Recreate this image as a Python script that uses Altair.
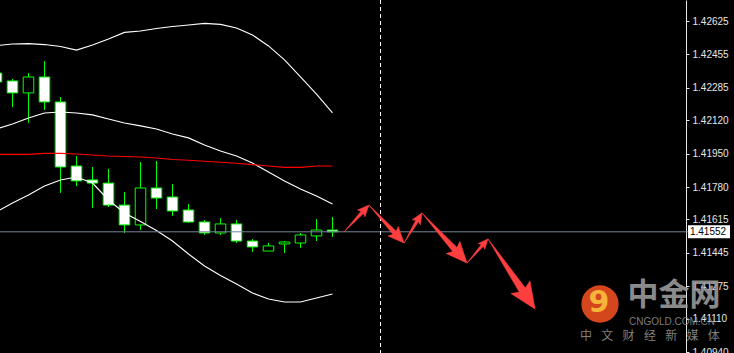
import math
import altair as alt
import pandas as pd

# ---------------- data ----------------
tick_values = [1.42625, 1.42455, 1.42285, 1.42120, 1.41950, 1.41780,
               1.41615, 1.41445, 1.41275, 1.41110, 1.40940]
current_price = 1.41552
price_min, price_max = 1.409351, 1.427319
bar_min, bar_max = -0.78125, 42.09375
separator_bar = 23

bar_index = list(range(-1, 21))
open_ = [1.42360, 1.42320, 1.42259, 1.42340, 1.42213, 1.41887, 1.41816, 1.41800,
         1.41688, 1.41587, 1.41775, 1.41729, 1.41663, 1.41602, 1.41546, 1.41592,
         1.41505, 1.41454, 1.41490, 1.41495, 1.41531, 1.41561]
close = [1.42315, 1.42259, 1.42340, 1.42213, 1.41882, 1.41811, 1.41800, 1.41688,
         1.41587, 1.41775, 1.41724, 1.41658, 1.41602, 1.41546, 1.41592, 1.41505,
         1.41475, 1.41480, 1.41500, 1.41536, 1.41561, 1.41552]
high = [1.42376, 1.42330, 1.42360, 1.42421, 1.42238, 1.41938, 1.41882, 1.41872,
        1.41755, 1.41907, 1.41912, 1.41795, 1.41694, 1.41612, 1.41622, 1.41612,
        1.41515, 1.41495, 1.41505, 1.41546, 1.41617, 1.41627]
low = [1.42299, 1.42187, 1.42106, 1.42172, 1.41750, 1.41785, 1.41673, 1.41678,
       1.41546, 1.41561, 1.41668, 1.41633, 1.41597, 1.41536, 1.41536, 1.41495,
       1.41449, 1.41454, 1.41444, 1.41470, 1.41505, 1.41526]

bb_upper = [1.42500, 1.42508, 1.42510, 1.42505, 1.42495, 1.42477, 1.42503, 1.42533,
            1.42567, 1.42574, 1.42587, 1.42597, 1.42605, 1.42613, 1.42608, 1.42589,
            1.42554, 1.42498, 1.42427, 1.42340, 1.42253, 1.42157]
bb_middle = [1.42075, 1.42101, 1.42131, 1.42157, 1.42162, 1.42157, 1.42147, 1.42126,
             1.42106, 1.42091, 1.42075, 1.42050, 1.42030, 1.41994, 1.41963, 1.41938,
             1.41902, 1.41856, 1.41811, 1.41770, 1.41734, 1.41694]
bb_lower = [1.41653, 1.41699, 1.41739, 1.41785, 1.41816, 1.41831, 1.41800, 1.41714,
            1.41648, 1.41604, 1.41559, 1.41505, 1.41439, 1.41378, 1.41330, 1.41286,
            1.41240, 1.41210, 1.41195, 1.41195, 1.41215, 1.41235]
ma_red = [1.41946, 1.41946, 1.41946, 1.41951, 1.41951, 1.41948, 1.41943, 1.41938,
          1.41935, 1.41933, 1.41928, 1.41920, 1.41916, 1.41911, 1.41906, 1.41901,
          1.41894, 1.41887, 1.41880, 1.41880, 1.41887, 1.41887]

# forecast arrows (waypoints: bar index, price)
arrow_bar = [20.72, 22.28, 24.47, 25.59, 28.41, 29.72, 32.66]
arrow_price = [1.41551, 1.41688, 1.41495, 1.41648, 1.41393, 1.41516, 1.41159]

# ---------------- layout ----------------
W, H = 686, 353
BG = "#000000"
GREEN = "#00ff00"
ARROW_RED = "#ff3f3f"

xs = alt.Scale(domain=[bar_min, bar_max], nice=False, zero=False)
ys = alt.Scale(domain=[price_min, price_max], nice=False, zero=False)


def to_px(k, p):
    return ((k - bar_min) / (bar_max - bar_min) * W,
            (price_max - p) / (price_max - price_min) * H)


def to_data(X, Y):
    return (bar_min + X / W * (bar_max - bar_min),
            price_max - Y / H * (price_max - price_min))


candles = pd.DataFrame({
    "k": bar_index, "open": open_, "close": close, "high": high, "low": low,
})
candles["kl"] = candles["k"] - 0.33
candles["kr"] = candles["k"] + 0.33
candles["body"] = ["bear" if c < o else "bull" for o, c in zip(open_, close)]

bands = pd.DataFrame({"k": bar_index * 4,
                      "price": bb_upper + bb_middle + bb_lower + ma_red,
                      "line": ["upper"] * 22 + ["middle"] * 22 + ["lower"] * 22 + ["ma"] * 22})

# arrow polygons built in pixel space through the scale mapping
rows = []
for i in range(len(arrow_bar) - 1):
    ax, ay = to_px(arrow_bar[i], arrow_price[i])
    bx, by = to_px(arrow_bar[i + 1], arrow_price[i + 1])
    L = math.hypot(bx - ax, by - ay)
    ux, uy = (bx - ax) / L, (by - ay) / L
    nx, ny = -uy, ux
    h = 0.27 * L
    hw = 0.5 * h
    sw = 0.32 * hw
    Bx, By = bx - ux * h, by - uy * h
    Cx, Cy = Bx - ux * 0.15 * h, By - uy * 0.15 * h
    pts = [(ax, ay),
           (Bx + nx * sw, By + ny * sw),
           (Cx + nx * hw, Cy + ny * hw),
           (bx, by),
           (Cx - nx * hw, Cy - ny * hw),
           (Bx - nx * sw, By - ny * sw),
           (ax, ay)]
    for j, (X, Y) in enumerate(pts):
        k, p = to_data(X, Y)
        rows.append({"arrow": i, "ord": j, "k": k, "price": p})
arrows = pd.DataFrame(rows)

# ---------------- marks ----------------
yaxis = alt.Axis(orient="right", values=tick_values, format=".5f", grid=False, title=None,
                 labelColor="#e6e6e6", labelFont="Liberation Sans", labelFontSize=10,
                 tickColor="#e6e6e6", tickSize=3, labelPadding=3,
                 domainColor="#e6e6e6", domainWidth=1, labelOverlap=False)

wicks = alt.Chart(candles).mark_rule(color=GREEN, strokeWidth=1, clip=True).encode(
    x=alt.X("k:Q", scale=xs, axis=None),
    y=alt.Y("high:Q", scale=ys, axis=yaxis),
    y2="low:Q",
)

bodies = alt.Chart(candles).mark_rect(stroke=GREEN, strokeWidth=1, clip=True).encode(
    x=alt.X("kl:Q", scale=xs, axis=None),
    x2="kr:Q",
    y=alt.Y("open:Q", scale=ys, axis=yaxis),
    y2="close:Q",
    fill=alt.Fill("body:N", scale=alt.Scale(domain=["bear", "bull"], range=["#ffffff", "#000000"]),
                  legend=None),
)

band_lines = alt.Chart(bands).mark_line(clip=True).encode(
    x=alt.X("k:Q", scale=xs, axis=None),
    y=alt.Y("price:Q", scale=ys, axis=yaxis),
    detail="line:N",
    color=alt.Color("line:N", scale=alt.Scale(domain=["upper", "middle", "lower", "ma"],
                                              range=["#ffffff", "#ffffff", "#ffffff", "#ff0000"]),
                    legend=None),
    strokeWidth=alt.StrokeWidth("line:N", scale=alt.Scale(domain=["upper", "middle", "lower", "ma"],
                                                          range=[1.1, 1.1, 1.1, 1.6]),
                                legend=None),
)

price_df = pd.DataFrame({"price": [current_price]})
price_line = alt.Chart(price_df).mark_rule(color="#76869a", strokeWidth=1).encode(
    x=alt.value(0), x2=alt.value(688),
    y=alt.Y("price:Q", scale=ys, axis=yaxis),
)

sep_df = pd.DataFrame({"k": [separator_bar]})
sep_line = alt.Chart(sep_df).mark_rule(color="#ffffff", strokeWidth=1, strokeDash=[4, 3]).encode(
    x=alt.X("k:Q", scale=xs, axis=None),
)

arrow_marks = alt.Chart(arrows).mark_line(fill=ARROW_RED, stroke=ARROW_RED, strokeWidth=0.6,
                                          clip=True).encode(
    x=alt.X("k:Q", scale=xs, axis=None),
    y=alt.Y("price:Q", scale=ys, axis=yaxis),
    detail="arrow:N",
    order="ord:Q",
)

half = 6.5 / H * (price_max - price_min)
box_df = pd.DataFrame({"top": [current_price + half], "bot": [current_price - half],
                       "price": [current_price], "label": [f"{current_price:.5f}"]})
price_box = alt.Chart(box_df).mark_rect(fill="#ffffff").encode(
    x=alt.value(688), x2=alt.value(730),
    y=alt.Y("top:Q", scale=ys, axis=yaxis), y2="bot:Q",
)
price_text = alt.Chart(box_df).mark_text(font="Liberation Sans", fontSize=10, color="#000000",
                                         align="center", baseline="middle").encode(
    x=alt.value(708), y=alt.Y("price:Q", scale=ys, axis=yaxis), text="label:N",
)

# watermark
wm = pd.DataFrame({"a": [0]})
logo = alt.Chart(wm).mark_circle(color="#df4a1e", opacity=0.95, size=1390).encode(
    x=alt.value(600), y=alt.value(304))
logo_in = alt.Chart(wm).mark_text(text="9", font="DejaVu Sans", fontSize=30, fontWeight="bold",
                                  color="#f6b43a", align="center", baseline="middle").encode(
    x=alt.value(599), y=alt.value(303))
wm_big = alt.Chart(wm).mark_text(text="中金网", font="Noto Sans CJK SC", fontSize=31,
                                 fontWeight="bold", color="#9a9a9a", opacity=0.9,
                                 align="center", baseline="middle").encode(
    x=alt.value(674), y=alt.value(296))
wm_en = alt.Chart(wm).mark_text(text="CNGOLD.COM.CN", font="Liberation Sans", fontSize=10,
                                color="#8a8a8a", opacity=0.9, align="center",
                                baseline="middle").encode(
    x=alt.value(672), y=alt.value(322))
sub_chars = ["中", "文", "财", "经", "新", "媒", "体"]
sub_df = pd.DataFrame({"c": sub_chars, "i": list(range(len(sub_chars)))})
wm_sub = alt.Chart(sub_df).transform_calculate(px="586 + datum.i * 21.3").mark_text(
    font="Noto Sans CJK SC", fontSize=12, color="#8e8e8e", opacity=0.9,
    align="center", baseline="middle").encode(
    x=alt.X("px:Q", scale=None), y=alt.value(336), text="c:N")

chart = alt.layer(
    wicks, bodies, band_lines, price_line, sep_line, arrow_marks,
    price_box, price_text, logo, logo_in, wm_big, wm_en, wm_sub,
).properties(
    width=W, height=H,
    autosize=alt.AutoSizeParams(type="none"),
    padding={"left": 0, "top": 0, "right": 48, "bottom": 0},
    background=BG,
).configure_view(stroke=None)

chart.save("out.html", embed_options={"renderer": "svg", "actions": False})
